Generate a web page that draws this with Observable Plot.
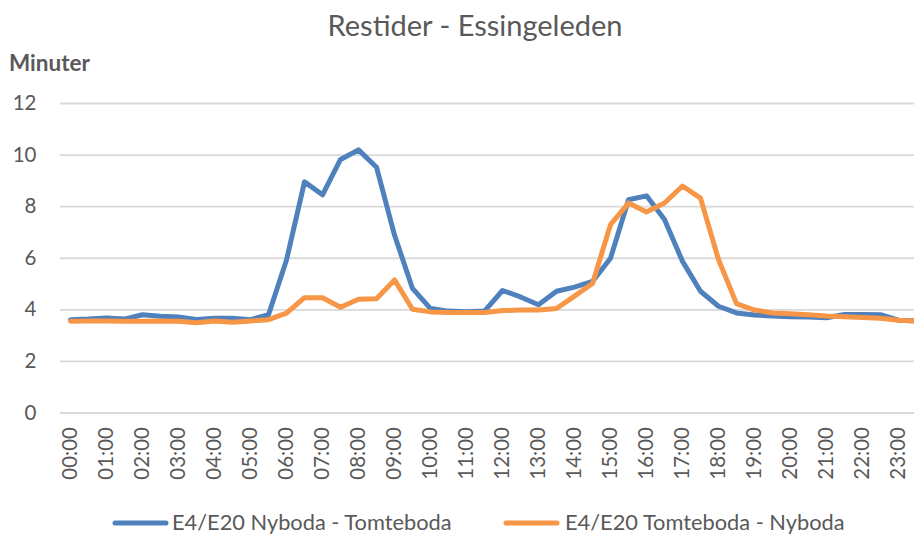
<!DOCTYPE html>
<html>
<head>
<meta charset="utf-8">
<script src="https://cdn.jsdelivr.net/npm/d3@7"></script>
<script src="https://cdn.jsdelivr.net/npm/@observablehq/plot@0.6"></script>
<style>
  html, body { margin: 0; padding: 0; background: #fff; overflow: hidden; }
  #wrap { position: relative; width: 914px; height: 534px; overflow: hidden; }
  #overlay { position: absolute; left: 0; top: 0; pointer-events: none; }
</style>
</head>
<body>
<div id="wrap"></div>
<script>
const title = "Restider - Essingeleden";
const yLabel = "Minuter";
const seriesNames = ["E4/E20 Nyboda - Tomteboda", "E4/E20 Tomteboda - Nyboda"];
const seriesColors = ["#4F81BD", "#F79646"];

const times = ["00:00","00:30","01:00","01:30","02:00","02:30","03:00","03:30",
  "04:00","04:30","05:00","05:30","06:00","06:30","07:00","07:30",
  "08:00","08:30","09:00","09:30","10:00","10:30","11:00","11:30",
  "12:00","12:30","13:00","13:30","14:00","14:30","15:00","15:30",
  "16:00","16:30","17:00","17:30","18:00","18:30","19:00","19:30",
  "20:00","20:30","21:00","21:30","22:00","22:30","23:00","23:30"];

const tickLabels = ["00:00","01:00","02:00","03:00","04:00","05:00","06:00","07:00",
  "08:00","09:00","10:00","11:00","12:00","13:00","14:00","15:00",
  "16:00","17:00","18:00","19:00","20:00","21:00","22:00","23:00"];

const yTicks = [0, 2, 4, 6, 8, 10, 12];

const nybodaTomteboda = [3.62,3.64,3.68,3.64,3.81,3.75,3.72,3.63,3.67,3.67,3.62,3.81,
  5.93,8.96,8.46,9.83,10.2,9.53,6.9,4.83,4.05,3.95,3.93,3.95,
  4.75,4.5,4.2,4.72,4.88,5.1,6.0,8.27,8.42,7.5,5.88,4.72,
  4.14,3.88,3.8,3.76,3.73,3.72,3.69,3.82,3.82,3.81,3.6,3.57];

const tomtebodaNyboda = [3.56,3.57,3.57,3.56,3.56,3.57,3.56,3.5,3.57,3.52,3.57,3.62,
  3.87,4.47,4.47,4.1,4.41,4.43,5.16,4.02,3.92,3.9,3.9,3.9,
  3.97,3.99,3.99,4.05,4.53,5.02,7.3,8.14,7.79,8.14,8.8,8.33,
  5.95,4.24,3.99,3.88,3.85,3.81,3.76,3.73,3.7,3.67,3.6,3.56];

const rows = [];
[nybodaTomteboda, tomtebodaNyboda].forEach((vals, s) => {
  vals.forEach((v, i) => rows.push({time: times[i], value: v, series: seriesNames[s]}));
});

const textColor = "#595959";
const font = "Lato, 'Open Sans', sans-serif";

const chart = Plot.plot({
  width: 914,
  height: 534,
  marginLeft: 60,
  marginRight: -12,
  marginTop: 103,
  marginBottom: 121.5,
  style: {fontFamily: font, fontSize: "20.5px", color: textColor, background: "transparent"},
  x: {type: "point", domain: times, padding: 0.5, label: null},
  y: {domain: [0, 12], label: null},
  color: {domain: seriesNames, range: seriesColors},
  marks: [
    Plot.gridY({ticks: yTicks, stroke: "#D9D9D9", strokeOpacity: 1, strokeWidth: 1.8}),
    Plot.axisY({ticks: yTicks, tickSize: 0, tickPadding: 24, fill: textColor, fontSize: 20.5, label: null}),
    Plot.axisX({ticks: tickLabels, tickRotate: -90, tickSize: 0, tickPadding: 14, fill: textColor, fontSize: 20.5, label: null}),
    Plot.line(rows, {x: "time", y: "value", stroke: "series", z: "series", strokeWidth: 5, strokeLinejoin: "round", strokeLinecap: "round"})
  ]
});
document.getElementById("wrap").appendChild(chart);

// overlay text: title, axis label, legend
const ns = "http://www.w3.org/2000/svg";
const ov = document.createElementNS(ns, "svg");
ov.setAttribute("id", "overlay");
ov.setAttribute("width", 914);
ov.setAttribute("height", 534);
function addText(str, x, y, size, anchor, weight) {
  const t = document.createElementNS(ns, "text");
  t.setAttribute("x", x); t.setAttribute("y", y);
  t.setAttribute("font-family", font);
  t.setAttribute("font-size", size);
  t.setAttribute("fill", textColor);
  t.setAttribute("text-anchor", anchor);
  if (weight) t.setAttribute("font-weight", weight);
  t.textContent = str;
  ov.appendChild(t);
}
function addSwatch(x1, x2, y, color) {
  const l = document.createElementNS(ns, "line");
  l.setAttribute("x1", x1); l.setAttribute("x2", x2);
  l.setAttribute("y1", y); l.setAttribute("y2", y);
  l.setAttribute("stroke", color); l.setAttribute("stroke-width", 5);
  l.setAttribute("stroke-linecap", "round");
  ov.appendChild(l);
}
addText(title, 475, 36, 29, "middle");
addText(yLabel, 9, 70.5, 22.5, "start", "bold");
const legendX = [[115, 166, 172], [506, 557, 565]];
seriesNames.forEach((name, i) => {
  addSwatch(legendX[i][0], legendX[i][1], 523, seriesColors[i]);
  addText(name, legendX[i][2], 529.5, 21.8, "start");
});
document.getElementById("wrap").appendChild(ov);
</script>
</body>
</html>
